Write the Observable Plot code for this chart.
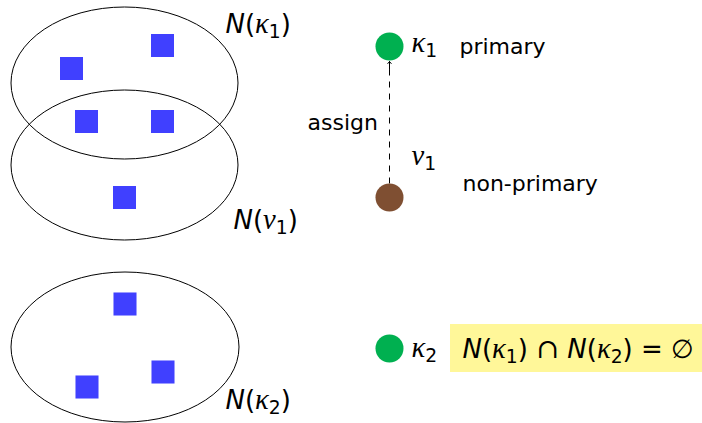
<!DOCTYPE html>
<html><head><meta charset="utf-8">
<script src="https://cdn.jsdelivr.net/npm/d3@7"></script>
<script src="https://cdn.jsdelivr.net/npm/@observablehq/plot@0.6"></script>
<style>body{margin:0;background:#fff}</style>
</head><body><div id="chart"></div>
<script>
// Neighbourhood sets (ellipses)
const setLabels = ["N(κ_1)", "N(ν_1)", "N(κ_2)"];
const setCx = [124.5, 124.5, 125];
const setCy = [83, 165, 347];
const setRx = [113.5, 113.5, 114];
const setRy = [76, 75, 75];
const setLabelX = [225, 233, 225];
const setLabelY = [32, 228, 408];

// Items (blue squares)
const itemX = [162, 71, 86, 162, 124, 124.5, 162.5, 86.5];
const itemY = [45, 68, 121, 121, 197, 303.5, 371.5, 386.5];

// Nodes
const nodeNames = ["κ_1", "ν_1", "κ_2"];
const nodeKind = ["primary", "non-primary", "primary"];
const nodeX = [389, 389, 389];
const nodeY = [46, 197, 348];
const nodeLabelX = [411, 411, 411];
const nodeLabelY = [51, 164, 356];

// Role texts
const roleTexts = ["primary", "non-primary"];
const roleX = [459, 462];
const roleY = [53, 190];

// Edge
const edgeLabel = "assign";
const edgeLabelX = 307, edgeLabelY = 129;

// Highlighted statement
const statement = "N(κ_1) ∩ N(κ_2) = ∅";
const boxX1 = 450, boxX2 = 702, boxY1 = 324, boxY2 = 372;
const statementX = 462, statementY = 357;

const W = 702, H = 423, R = 14;

const sets = setLabels.map((l, i) => ({label: l, cx: setCx[i], cy: setCy[i], rx: setRx[i], ry: setRy[i], lx: setLabelX[i], ly: setLabelY[i]}));
const items = itemX.map((x, i) => ({x, y: itemY[i]}));
const nodes = nodeNames.map((n, i) => ({name: n, kind: nodeKind[i], x: nodeX[i], y: nodeY[i], lx: nodeLabelX[i], ly: nodeLabelY[i]}));
const roles = roleTexts.map((t, i) => ({text: t, x: roleX[i], y: roleY[i]}));
const src = nodes[1], dst = nodes[0];

function ellipseRender(index, scales, values) {
  const g = d3.create("svg:g");
  for (const i of index) {
    const d = sets[i];
    g.append("ellipse")
      .attr("cx", values.x[i]).attr("cy", values.y[i])
      .attr("rx", Math.abs(scales.x(d.cx + d.rx) - scales.x(d.cx)))
      .attr("ry", Math.abs(scales.y(d.cy + d.ry) - scales.y(d.cy)))
      .attr("fill", "none").attr("stroke", "black").attr("stroke-width", 1);
  }
  return g.node();
}

const plot = Plot.plot({
  width: W, height: H, margin: 0,
  x: {domain: [0, W], range: [0, W], axis: null},
  y: {domain: [0, H], range: [0, H], axis: null},
  style: {background: "white", overflow: "visible"},
  marks: [
    Plot.rect([0], {x1: () => boxX1, x2: () => boxX2, y1: () => boxY1, y2: () => boxY2, fill: "#fff799"}),
    Plot.dot(sets, {x: "cx", y: "cy", render: ellipseRender}),
    Plot.dot(items, {x: "x", y: "y", symbol: "square", r: 13, fill: "#4040ff"}),
    Plot.link([0], {x1: () => src.x, y1: () => src.y - R, x2: () => dst.x, y2: () => dst.y + R + 5, stroke: "black", strokeWidth: 1, strokeDasharray: "6,6"}),
    Plot.arrow([0], {x1: () => dst.x, y1: () => dst.y + R + 9, x2: () => dst.x, y2: () => dst.y + R + 1, stroke: "black", strokeWidth: 1, headLength: 7, headAngle: 80}),
    Plot.dot(nodes, {x: "x", y: "y", r: R, fill: d => d.kind === "primary" ? "#00b050" : "#7f4f32"}),
    Plot.text(sets, {x: "lx", y: "ly", text: "label", textAnchor: "start", lineAnchor: "bottom", fontSize: 26}),
    Plot.text(nodes, {x: "lx", y: "ly", text: "name", textAnchor: "start", lineAnchor: "bottom", fontSize: 26}),
    Plot.text([statement], {x: () => statementX, y: () => statementY, text: d => d, textAnchor: "start", lineAnchor: "bottom", fontSize: 26}),
    Plot.text(roles, {x: "x", y: "y", text: "text", textAnchor: "start", lineAnchor: "bottom", fontSize: 22, fontFamily: "DejaVu Sans"}),
    Plot.text([edgeLabel], {x: () => edgeLabelX, y: () => edgeLabelY, text: d => d, textAnchor: "start", lineAnchor: "bottom", fontSize: 22, fontFamily: "DejaVu Sans"})
  ]
});

// Typeset math-like labels with tspans (italic N, serif italic Greek, subscripts)
d3.select(plot).selectAll("text").each(function() {
  const el = d3.select(this);
  const s = el.text();
  if (!s.includes("_")) return;
  const fs = 26;
  el.text("").style("white-space", "pre").attr("font-family", "DejaVu Sans");
  let shifted = false;
  for (let i = 0; i < s.length; i++) {
    const c = s[i];
    if (c === "_") {
      const sub = s[++i];
      el.append("tspan").text(sub).attr("font-size", fs * 0.72).attr("dy", fs * 0.2);
      shifted = true;
      continue;
    }
    const t = el.append("tspan").text(c);
    if (shifted) { t.attr("dy", -fs * 0.2); shifted = false; }
    if (/[κν]/.test(c)) t.attr("font-family", "Liberation Serif").attr("font-style", "italic").attr("font-size", fs * 1.1);
    else if (c === "N") t.attr("font-style", "italic");
    else if (c === "∩") t.attr("font-family", "DejaVu Serif").attr("font-size", fs * 1.05);
  }
});

document.getElementById("chart").append(plot);
</script>
</body></html>
